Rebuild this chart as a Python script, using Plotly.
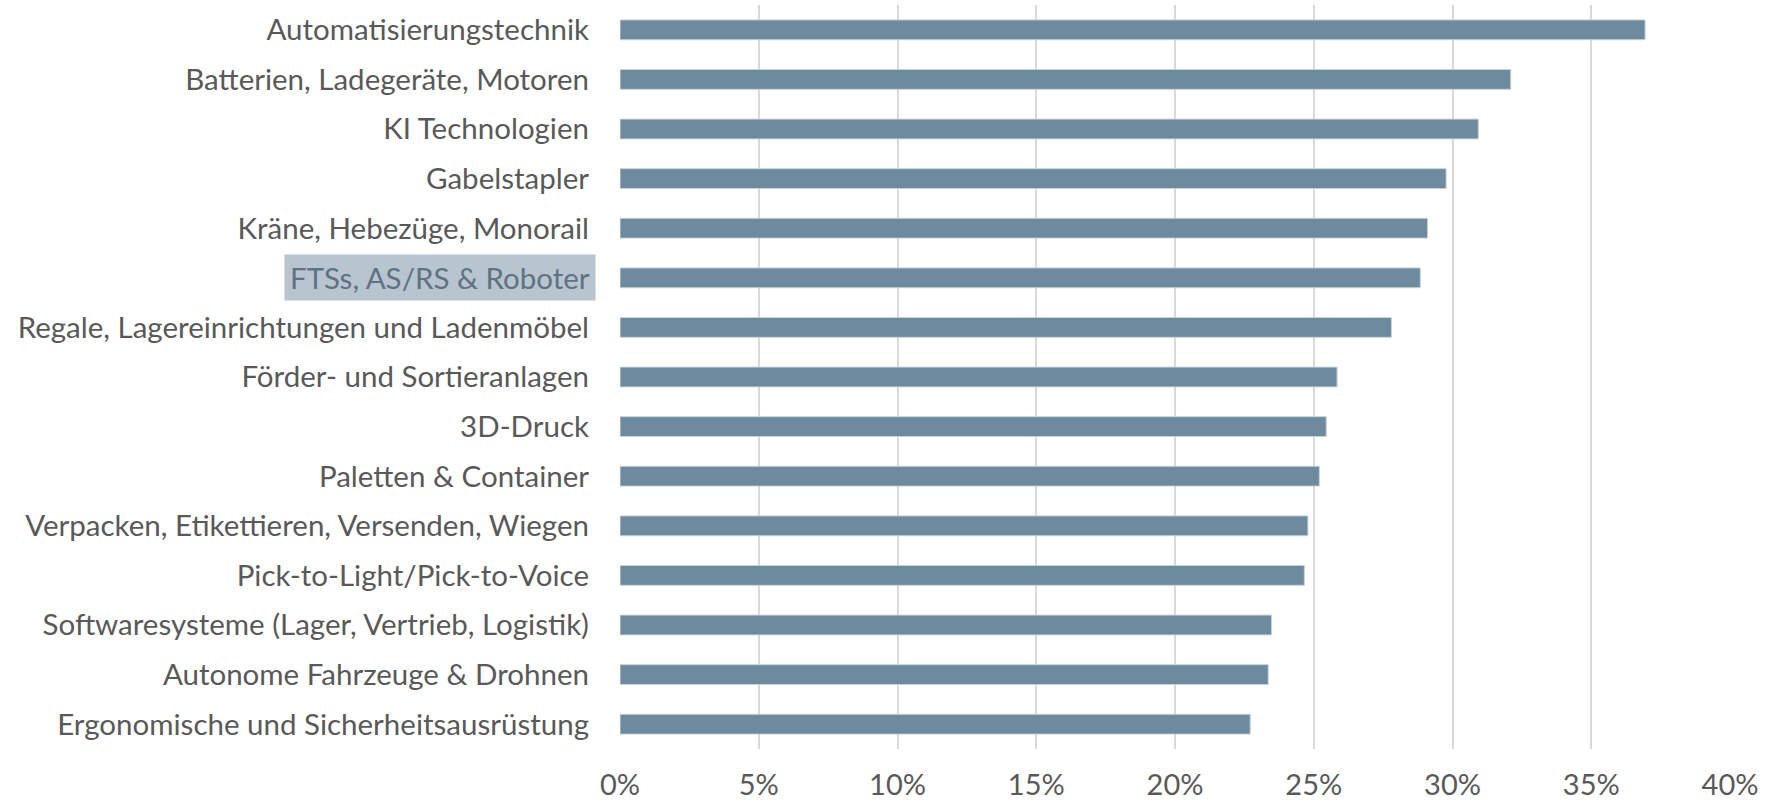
import plotly.graph_objects as go

categories = [
    "Automatisierungstechnik",
    "Batterien, Ladegeräte, Motoren",
    "KI Technologien",
    "Gabelstapler",
    "Kräne, Hebezüge, Monorail",
    "FTSs, AS/RS & Roboter",
    "Regale, Lagereinrichtungen und Ladenmöbel",
    "Förder- und Sortieranlagen",
    "3D-Druck",
    "Paletten & Container",
    "Verpacken, Etikettieren, Versenden, Wiegen",
    "Pick-to-Light/Pick-to-Voice",
    "Softwaresysteme (Lager, Vertrieb, Logistik)",
    "Autonome Fahrzeuge & Drohnen",
    "Ergonomische und Sicherheitsausrüstung",
]
values = [0.3694, 0.321, 0.3093, 0.2977, 0.291, 0.2884, 0.278, 0.2584, 0.2545,
          0.252, 0.2479, 0.2466, 0.2348, 0.2336, 0.2271]
x_ticks = [0, 0.05, 0.10, 0.15, 0.20, 0.25, 0.30, 0.35, 0.40]
x_tick_labels = ["0%", "5%", "10%", "15%", "20%", "25%", "30%", "35%", "40%"]
highlight = "FTSs, AS/RS & Roboter"

FONT = "Lato"
TEXT = "#595959"
SIZE = 29.5

fig = go.Figure(go.Bar(
    x=values, y=categories, orientation="h",
    marker=dict(color="#6e8a9e", line=dict(color="#c9d3dc", width=1)),
    width=0.4,
))

ticktext = ["" if c == highlight else c for c in categories]

fig.update_layout(
    width=1779, height=804,
    margin=dict(l=620, r=49, t=5, b=55),
    paper_bgcolor="white", plot_bgcolor="white",
    showlegend=False,
    font=dict(family=FONT, size=SIZE, color=TEXT),
    xaxis=dict(range=[0, 0.4], tickvals=x_ticks, ticktext=x_tick_labels,
               showgrid=True, gridcolor="#d9d9d9", gridwidth=2,
               zeroline=False, showline=False, ticks="", automargin=False,
               ticklabelstandoff=16, tickfont=dict(size=29, color=TEXT)),
    yaxis=dict(categoryorder="array", categoryarray=categories,
               tickvals=categories, ticktext=ticktext,
               autorange="reversed", showgrid=False, zeroline=False,
               showline=False, ticks="", ticklabelstandoff=30, automargin=False,
               tickfont=dict(size=SIZE, color=TEXT)),
    annotations=[dict(
        x=0, y=highlight, xref="x", yref="y", xanchor="right", yanchor="middle",
        xshift=-24, text=highlight, showarrow=False,
        font=dict(family=FONT, size=SIZE, color="#5f7282"),
        bgcolor="#b8c5d0", borderpad=5,
    )],
)

fig.write_html("out.html", config={"displayModeBar": False},
               post_script="document.body.style.margin='0px';")
